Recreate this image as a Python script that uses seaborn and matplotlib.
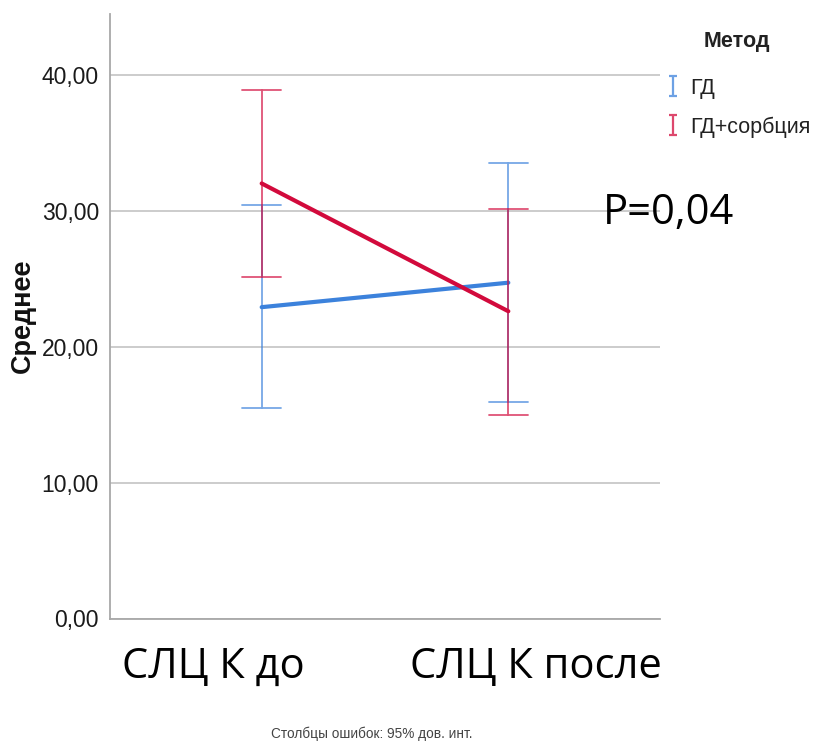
import numpy as np
import pandas as pd
import matplotlib
matplotlib.use("Agg")
import matplotlib.pyplot as plt
from matplotlib.path import Path
from matplotlib.lines import Line2D
from matplotlib.ticker import FuncFormatter
import seaborn as sns

# ---- data ----
categories = ["СЛЦ К до", "СЛЦ К после"]
methods = ["ГД", "ГД+сорбция"]
mean_gd = [22.9, 24.7]
lo_gd = [15.5, 15.9]
hi_gd = [30.4, 33.5]
mean_sorb = [32.0, 22.6]
lo_sorb = [25.1, 15.0]
hi_sorb = [38.9, 30.15]
y_ticks = [0, 10, 20, 30, 40]
p_text = "P=0,04"
footnote = "Столбцы ошибок: 95% дов. инт."
y_label = "Среднее"
legend_title = "Метод"

colors = {"ГД": "#3C82DC", "ГД+сорбция": "#D20A3C"}

# long table: lower / mean / upper per cell -> median = mean, 100% interval = CI
rows = []
for m, mean, lo, hi in [("ГД", mean_gd, lo_gd, hi_gd),
                        ("ГД+сорбция", mean_sorb, lo_sorb, hi_sorb)]:
    for i, c in enumerate(categories):
        for v in (lo[i], mean[i], hi[i]):
            rows.append({"time": c, "method": m, "value": v})
df = pd.DataFrame(rows)

sns.set_style("white")
plt.rcParams["font.family"] = ["Liberation Sans", "DejaVu Sans"]

W, H = 815, 743
fig = plt.figure(figsize=(W / 100, H / 100), dpi=100)
ax = fig.add_axes([110 / W, 1 - 618.5 / H, 550 / W, 605 / H])

sns.pointplot(data=df, x="time", y="value", hue="method", order=categories,
              hue_order=methods, palette=colors, estimator="median",
              errorbar=("pi", 100), capsize=0.16, markers="", linewidth=3,
              err_kws={"linewidth": 1.3, "alpha": 0.7}, legend=False, ax=ax)

ax.set_xlim(-0.615, 1.615)
ax.set_ylim(0, 44.5)
ax.set_yticks(y_ticks)
ax.yaxis.set_major_formatter(FuncFormatter(lambda v, p: f"{v:.2f}".replace(".", ",")))
ax.tick_params(axis="y", length=0, pad=8, labelsize=16.5, labelcolor="#1a1a1a")
ax.set_xticks([])
ax.set_xlabel("")
ax.set_ylabel("")
ax.grid(axis="y", color="#C8C8C8", linewidth=1.3)
ax.set_axisbelow(True)
for s in ["top", "right"]:
    ax.spines[s].set_visible(False)
for s in ["left", "bottom"]:
    ax.spines[s].set_color("#A8A8A8")
    ax.spines[s].set_linewidth(1.3)

# y label
fig.text(23 / W, 1 - 316 / H, y_label, rotation=90, ha="center", va="center",
         fontsize=19.5, fontweight="bold", color="#111111")

# category labels (large, as pasted in the reference)
cat_x = [213 / W, 536 / W]
for c, xx in zip(categories, cat_x):
    fig.text(xx, 1 - 678 / H, c, ha="center", va="baseline",
             fontsize=30, family=["Open Sans", "DejaVu Sans"], color="black")

# P value
fig.text(603 / W, 1 - 224 / H, p_text, ha="left", va="baseline",
         fontsize=30, family=["Open Sans", "DejaVu Sans"], color="black")

# footnote
fig.text(372 / W, 1 - 738 / H, footnote, ha="center", va="baseline",
         fontsize=9.8, family=["Liberation Sans Narrow", "Liberation Sans", "DejaVu Sans"],
         color="#444444")

# legend with I-shaped error-bar icons
ipath = Path([(-0.35, 1), (0.35, 1), (0, 1), (0, -1), (-0.35, -1), (0.35, -1)],
             [Path.MOVETO, Path.LINETO, Path.MOVETO, Path.LINETO, Path.MOVETO, Path.LINETO])
handles = [Line2D([], [], marker=ipath, linestyle="none", markersize=15,
                  markeredgewidth=1.6, markeredgecolor=colors[m], markerfacecolor="none",
                  alpha=0.75)
           for m in methods]
leg = fig.legend(handles, methods, loc="upper left",
                 bbox_to_anchor=(667 / W, 1 - 78 / H), frameon=False, fontsize=15.5,
                 handlelength=0.6, handletextpad=0.5, labelspacing=0.8,
                 borderaxespad=0, borderpad=0)
for t in leg.get_texts():
    t.set_color("#222222")
fig.text(737 / W, 1 - 42 / H, legend_title, ha="center", va="center",
         fontsize=15.5, fontweight="bold", color="#222222")

fig.savefig("out.png", dpi=100)
